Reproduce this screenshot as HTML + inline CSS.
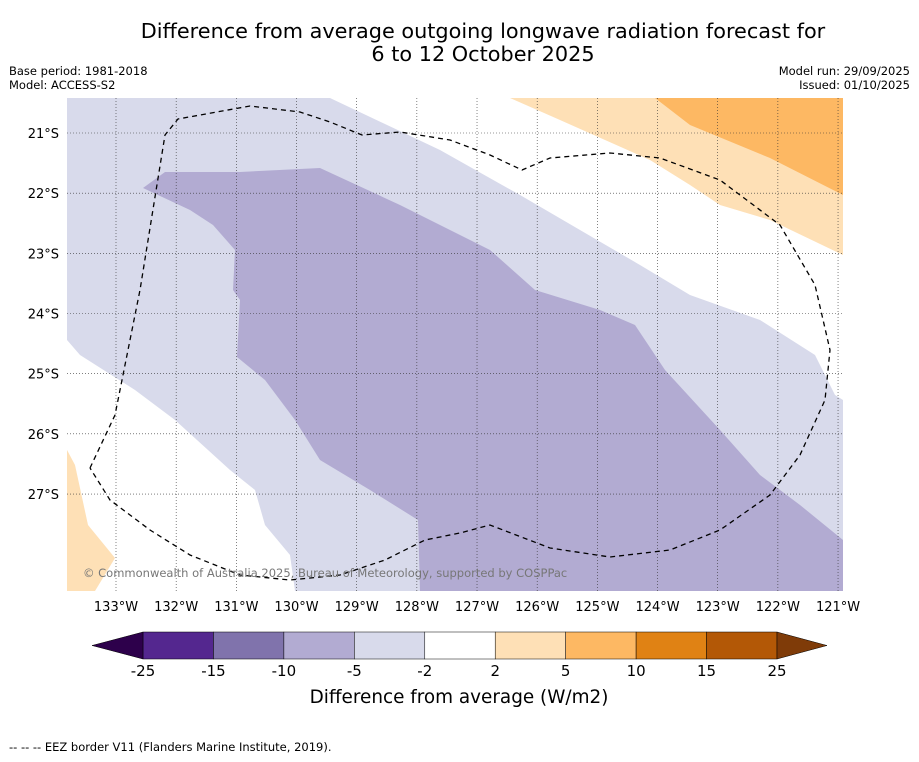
<!DOCTYPE html>
<html><head><meta charset="utf-8"><style>
body{margin:0;background:#fff;font-family:"DejaVu Sans",sans-serif;}
</style></head><body>
<svg width="919" height="758" xmlns="http://www.w3.org/2000/svg" font-family="DejaVu Sans, Liberation Sans, sans-serif">
<text x="483" y="38" font-size="20.8" text-anchor="middle">Difference from average outgoing longwave radiation forecast for</text>
<text x="483" y="61" font-size="20.8" text-anchor="middle">6 to 12 October 2025</text>
<text x="9" y="75" font-size="11.5">Base period: 1981-2018</text>
<text x="9" y="89" font-size="11.5">Model: ACCESS-S2</text>
<text x="910" y="75" font-size="11.5" text-anchor="end">Model run: 29/09/2025</text>
<text x="910" y="89" font-size="11.5" text-anchor="end">Issued: 01/10/2025</text>
<defs><clipPath id="mc"><rect x="67" y="98" width="776" height="493"/></clipPath></defs>
<g clip-path="url(#mc)">
<rect x="67" y="98" width="776" height="493" fill="#fff"/>
<polygon fill="#d8daeb" points="67,98 330,98 440,150 520,195 580,230 640,265 690,295 760,320 815,355 835,395 843,400 843,591 295,591 290,555 265,525 255,490 230,470 175,420 135,390 80,355 67,340"/>
<polygon fill="#b2abd2" points="143,188 165,172 240,172 320,168 400,205 490,250 535,290 600,310 635,325 665,370 720,430 760,475 800,505 843,540 843,591 420,591 418,520 370,490 320,460 295,420 265,380 237,357 240,300 233,290 235,250 213,225 190,210"/>
<polygon fill="#fee0b6" points="510,98 843,98 843,255 770,220 720,205 690,185 650,160 560,120"/>
<polygon fill="#fdb863" points="655,98 843,98 843,195 770,158 690,125"/>
<polygon fill="#fee0b6" points="67,450 75,465 88,525 115,558 95,591 67,591"/>
<g id="grid" stroke="#333" stroke-width="0.6" stroke-dasharray="1,2"></g>
<polyline fill="none" stroke="#000" stroke-width="1.3" stroke-dasharray="5,4" points="90,468 115,415 140,290 165,135 178,119 250,106 300,112 330,122 362,135 400,132 450,140 490,155 522,170 550,158 610,153 660,158 720,180 780,225 815,285 830,350 825,400 800,455 770,495 720,530 670,550 610,557 550,548 490,525 460,533 425,540 385,560 340,575 290,580 240,575 190,555 150,530 110,500 90,468"/>
<text x="83" y="577" font-size="11.5" fill="#777">© Commonwealth of Australia 2025, Bureau of Meteorology, supported by COSPPac</text>
</g>
<g id="axes"></g>
<g id="cbar"></g>
<text x="459" y="703" font-size="18.4" text-anchor="middle">Difference from average (W/m2)</text>
<text x="9" y="751" font-size="11.5">--  --  -- EEZ border V11 (Flanders Marine Institute, 2019).</text>
</svg>
<script>
const lonTicks=[133,132,131,130,129,128,127,126,125,124,123,122,121];
const latTicks=[21,22,23,24,25,26,27];
const levels=[-25,-15,-10,-5,-2,2,5,10,15,25];
const levelColors=["#54278f","#8073ac","#b2abd2","#d8daeb","#ffffff","#fee0b6","#fdb863","#e08214","#b35806"];
const underColor="#2d004b", overColor="#7f3b08";
const NS="http://www.w3.org/2000/svg";
function xLon(w){return 116+(133-w)*60.17;}
function yLat(s){return 133+(s-21)*60.17;}
function mk(t,a,p){const e=document.createElementNS(NS,t);for(const k in a)e.setAttribute(k,a[k]);p.appendChild(e);return e;}
const grid=document.getElementById('grid'),axes=document.getElementById('axes'),cb=document.getElementById('cbar');
lonTicks.forEach(w=>{const x=xLon(w);
const l=mk('line',{x1:x,x2:x,y1:98,y2:591},grid);


const t=mk('text',{x:x,y:611,'font-size':13,'text-anchor':'middle'},axes);t.textContent=w+'°W';

});
latTicks.forEach(s=>{const y=yLat(s);
const l=mk('line',{x1:67,x2:843,y1:y,y2:y},grid);


const t=mk('text',{x:59,y:y+5,'font-size':13,'text-anchor':'end'},axes);t.textContent=s+'°S';

});
const cx0=143,cw=(777-143)/levelColors.length,cy=632,ch=27;
levelColors.forEach((c,i)=>{const r=mk('rect',{x:cx0+i*cw,y:cy,width:cw,height:ch,fill:c,stroke:'#000','stroke-width':0.5},cb);

});
const tl=mk('polygon',{points:`${cx0},${cy} 92,${cy+ch/2} ${cx0},${cy+ch}`,fill:underColor,stroke:'#000','stroke-width':0.5},cb);


const xe=cx0+cw*levelColors.length;
const tr=mk('polygon',{points:`${xe},${cy} 827,${cy+ch/2} ${xe},${cy+ch}`,fill:overColor,stroke:'#000','stroke-width':0.5},cb);


levels.forEach((v,i)=>{const t=mk('text',{x:cx0+i*cw,y:676,'font-size':15,'text-anchor':'middle'},cb);t.textContent=v;

});
</script>
</body></html>
